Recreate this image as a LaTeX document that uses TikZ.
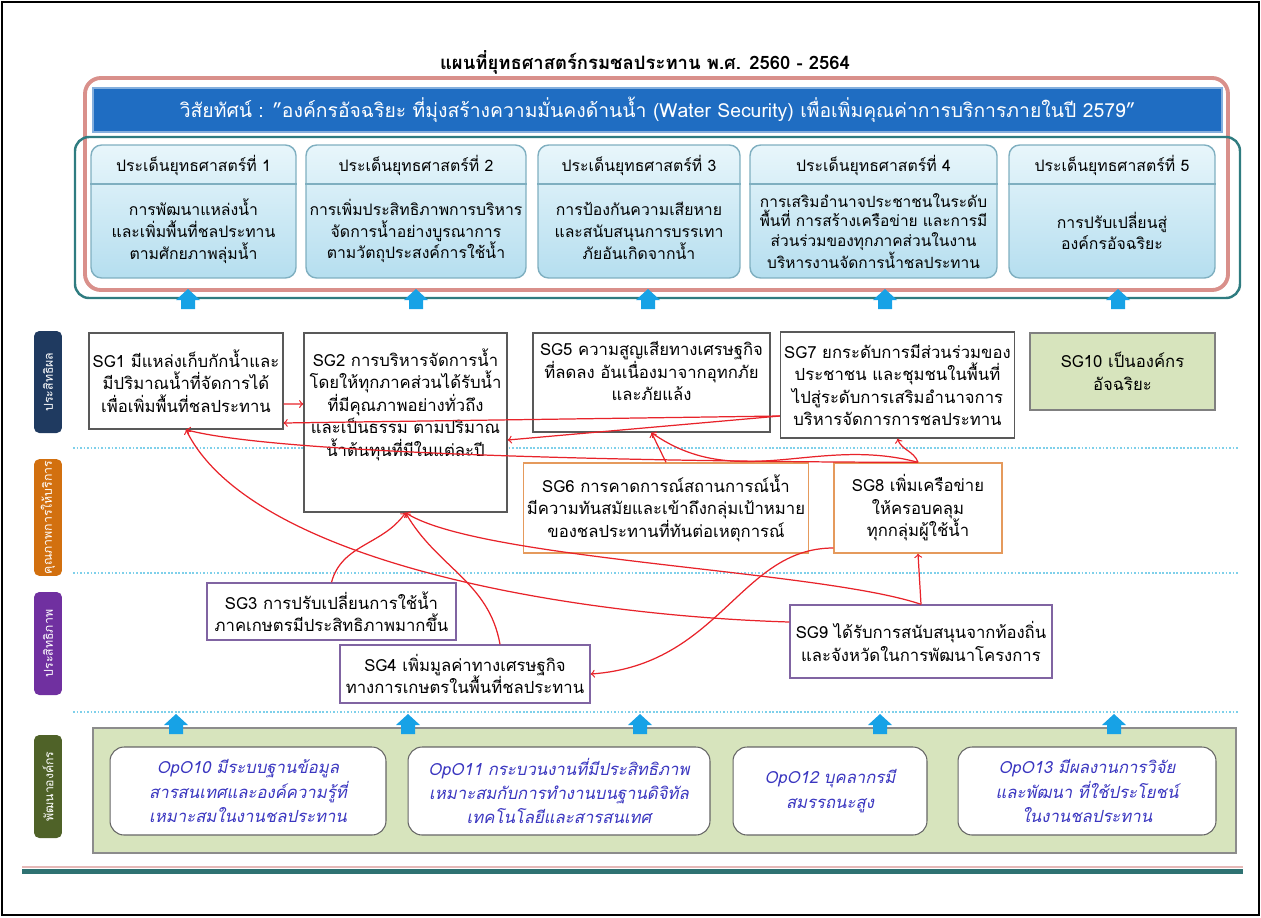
\documentclass[tikz,border=0pt]{standalone}
\usepackage{fontspec}
\setmainfont{Loma}[Script=Thai]

\definecolor{visionBlue}{HTML}{1F6DC2}
\definecolor{framePink}{HTML}{D9908B}
\definecolor{frameTeal}{HTML}{2F7C80}
\definecolor{issueTop}{HTML}{E8F6FB}
\definecolor{issueBottom}{HTML}{B5DEEF}
\definecolor{issueLine}{HTML}{7FAFC0}
\definecolor{arrowBlue}{HTML}{17A2E6}
\definecolor{navyLabel}{HTML}{1F3A60}
\definecolor{orangeLabel}{HTML}{D2700F}
\definecolor{purpleLabel}{HTML}{7030A0}
\definecolor{oliveLabel}{HTML}{4F6228}
\definecolor{paleOlive}{HTML}{D7E4BD}
\definecolor{serviceLine}{HTML}{E59A5C}
\definecolor{efficiencyLine}{HTML}{8064A2}
\definecolor{linkRed}{HTML}{E8232A}
\definecolor{dotBlue}{HTML}{7FD0EA}
\definecolor{opoText}{HTML}{3A36C0}
\definecolor{barPink}{HTML}{E6B9B8}
\definecolor{barTeal}{HTML}{2E7272}

\tikzset{vision/.style = {rectangle, fill=visionBlue, draw=visionBlue!55, line width=0.8pt,
    text=white, minimum width=22.58cm, minimum height=0.88cm, font=\fontsize{11}{13}\selectfont},
  issue/.style = {rectangle, rounded corners=6pt, draw=issueLine, line width=0.8pt,
    top color=issueTop, bottom color=issueBottom, minimum height=2.66cm},
  issueHead/.style = {font=\fontsize{9}{11}\selectfont},
  issueBody/.style = {align=center, font=\fontsize{9}{12.4}\selectfont},
  upArrow/.pic = {\fill[arrowBlue] (-7,10) -- (-7,1) -- (-12,1) -- (0,-10) -- (12,1) -- (7,1) -- (7,10) -- cycle;},
  sideLabel/.style = {rectangle, rounded corners=3pt, rotate=90, text=white, minimum height=0.56cm,
    font=\fontsize{7}{8}\selectfont, inner sep=1pt},
  effect/.style = {rectangle, draw=black!65, line width=0.8pt, fill=white, align=center,
    font=\fontsize{9.5}{12.8}\selectfont, inner sep=2pt},
  service/.style = {effect, draw=serviceLine},
  efficiency/.style = {effect, draw=efficiencyLine},
  smart/.style = {effect, fill=paleOlive, draw=black!50},
  opo/.style = {rectangle, rounded corners=8pt, draw=black!60, line width=0.6pt, fill=white,
    align=center, text=opoText, font=\fontsize{9.5}{13.9}\selectfont\itshape},
  bandLine/.style = {dotBlue, densely dotted, line width=1pt},
  redLink/.style = {->, draw=linkRed, line width=0.7pt}}

\begin{document}
\begin{tikzpicture}[x=0.02cm, y=-0.02cm]
  \useasboundingbox (0,0) rectangle (1261,917);
  \draw[line width=1pt] (2,2) rectangle (1259,915);

  \node (title) at (645,62) {\fontsize{10.5}{12}\selectfont\bfseries แผนที่ยุทธศาสตร์กรมชลประทาน พ.ศ. 2560 - 2564};

  % vision and strategic issues
  \draw[framePink, line width=2.2pt, rounded corners=9pt] (85,78) rectangle (1228,290);
  \draw[frameTeal, line width=1.4pt, rounded corners=8pt] (75,137) rectangle (1240,298);
  \node[vision] (vision) at (657.5,110) {วิสัยทัศน์ : "องค์กรอัจฉริยะ ที่มุ่งสร้างความมั่นคงด้านน้ำ (Water Security) เพื่อเพิ่มคุณค่าการบริการภายในปี 2579"};

  \node[issue, minimum width=4.1cm] (issue1) at (193.5,211.5) {};
  \node[issueHead] (head1) at (issue1.center |- 0,165) {ประเด็นยุทธศาสตร์ที่ 1};
  \draw[issueLine, line width=0.8pt] (issue1.west |- 0,184) -- (issue1.east |- 0,184);
  \node[issueBody] (body1) at (issue1.center |- 0,231) {การพัฒนาแหล่งน้ำ\\และเพิ่มพื้นที่ชลประทาน\\ตามศักยภาพลุ่มน้ำ};

  \node[issue, minimum width=4.4cm] (issue2) at (416,211.5) {};
  \node[issueHead] (head2) at (issue2.center |- 0,165) {ประเด็นยุทธศาสตร์ที่ 2};
  \draw[issueLine, line width=0.8pt] (issue2.west |- 0,184) -- (issue2.east |- 0,184);
  \node[issueBody] (body2) at (issue2.center |- 0,231) {การเพิ่มประสิทธิภาพการบริหาร\\จัดการน้ำอย่างบูรณาการ\\ตามวัตถุประสงค์การใช้น้ำ};

  \node[issue, minimum width=4.04cm] (issue3) at (639,211.5) {};
  \node[issueHead] (head3) at (issue3.center |- 0,165) {ประเด็นยุทธศาสตร์ที่ 3};
  \draw[issueLine, line width=0.8pt] (issue3.west |- 0,184) -- (issue3.east |- 0,184);
  \node[issueBody] (body3) at (issue3.center |- 0,231) {การป้องกันความเสียหาย\\และสนับสนุนการบรรเทา\\ภัยอันเกิดจากน้ำ};

  \node[issue, minimum width=4.94cm] (issue4) at (873.5,211.5) {};
  \node[issueHead] (head4) at (issue4.center |- 0,165) {ประเด็นยุทธศาสตร์ที่ 4};
  \draw[issueLine, line width=0.8pt] (issue4.west |- 0,184) -- (issue4.east |- 0,184);
  \node[issueBody, font=\fontsize{8.8}{11.2}\selectfont] (body4) at (issue4.center |- 0,231) {การเสริมอำนาจประชาชนในระดับ\\พื้นที่ การสร้างเครือข่าย และการมี\\ส่วนร่วมของทุกภาคส่วนในงาน\\บริหารงานจัดการน้ำชลประทาน};

  \node[issue, minimum width=4.12cm] (issue5) at (1112,211.5) {};
  \node[issueHead] (head5) at (issue5.center |- 0,165) {ประเด็นยุทธศาสตร์ที่ 5};
  \draw[issueLine, line width=0.8pt] (issue5.west |- 0,184) -- (issue5.east |- 0,184);
  \node[issueBody] (body5) at (issue5.center |- 0,231) {การปรับเปลี่ยนสู่\\องค์กรอัจฉริยะ};

  \pic (upA1) at (188,299) {upArrow};
  \pic (upA2) at (416,299) {upArrow};
  \pic (upA3) at (648,299) {upArrow};
  \pic (upA4) at (885,299) {upArrow};
  \pic (upA5) at (1118,299) {upArrow};

  % perspectives
  \node[sideLabel, fill=navyLabel, minimum width=2.04cm] (sideEff) at (48,382) {ประสิทธิผล};
  \node[sideLabel, fill=orangeLabel, minimum width=2.1cm] (sideSvc) at (48,517.5) {คุณภาพการให้บริการ};
  \node[sideLabel, fill=purpleLabel, minimum width=2.06cm] (sideEffi) at (48,643.5) {ประสิทธิภาพ};
  \node[sideLabel, fill=oliveLabel, minimum width=2.06cm] (sideDev) at (48,786.5) {พัฒนาองค์กร};

  \draw[bandLine] (73,448) -- (1238,448);
  \draw[bandLine] (73,573) -- (1238,573);
  \draw[bandLine] (73,712) -- (1238,712);

  % strategic goals
  \node[effect, minimum width=3.76cm, minimum height=1.92cm] (SG1) at (186,381) {SG1 มีแหล่งเก็บกักน้ำและ\\มีปริมาณน้ำที่จัดการได้\\เพื่อเพิ่มพื้นที่ชลประทาน};
  \node[effect, minimum width=4.06cm, minimum height=3.58cm] (SG2) at (405.5,422.5) {SG2 การบริหารจัดการน้ำ\\โดยให้ทุกภาคส่วนได้รับน้ำ\\ที่มีคุณภาพอย่างทั่วถึง\\และเป็นธรรม ตามปริมาณ\\น้ำต้นทุนที่มีในแต่ละปี\\[0.35cm]~};
  \node[effect, minimum width=4.74cm, minimum height=1.98cm] (SG5) at (651.5,382.5) {SG5 ความสูญเสียทางเศรษฐกิจ\\ที่ลดลง อันเนื่องมาจากอุทกภัย\\และภัยแล้ง\\~};
  \node[effect, minimum width=4.3cm, minimum height=2.12cm] (SG7) at (897.5,385) {SG7 ยกระดับการมีส่วนร่วมของ\\ประชาชน และชุมชนในพื้นที่\\ไปสู่ระดับการเสริมอำนาจการ\\บริหารจัดการการชลประทาน};
  \node[smart, minimum width=3.7cm, minimum height=1.54cm] (SG10) at (1122.5,371.5) {SG10 เป็นองค์กร\\อัจฉริยะ};

  \node[service, minimum width=5.64cm, minimum height=1.8cm] (SG6) at (666,508) {SG6 การคาดการณ์สถานการณ์น้ำ\\มีความทันสมัยและเข้าถึงกลุ่มเป้าหมาย\\ของชลประทานที่ทันต่อเหตุการณ์};
  \node[service, minimum width=3.36cm, minimum height=1.8cm] (SG8) at (918,508) {SG8 เพิ่มเครือข่าย\\ให้ครอบคลุม\\ทุกกลุ่มผู้ใช้น้ำ};

  \node[efficiency, minimum width=4.98cm, minimum height=1.14cm] (SG3) at (331.5,611.5) {SG3 การปรับเปลี่ยนการใช้น้ำ\\ภาคเกษตรมีประสิทธิภาพมากขึ้น};
  \node[efficiency, minimum width=5cm, minimum height=1.16cm] (SG4) at (465,674) {SG4 เพิ่มมูลค่าทางเศรษฐกิจ\\ทางการเกษตรในพื้นที่ชลประทาน};
  \node[efficiency, minimum width=5.24cm, minimum height=1.46cm] (SG9) at (921,641.5) {SG9 ได้รับการสนับสนุนจากท้องถิ่น\\และจังหวัดในการพัฒนาโครงการ};

  \draw[redLink] ([yshift=-0.46cm]SG1.east) -- ([yshift=0.37cm]SG2.west);
  \draw[redLink] ([yshift=-0.62cm]SG7.west) -- ([yshift=-0.84cm]SG1.east);
  \draw[redLink] ([yshift=-0.62cm]SG7.west) -- ([yshift=-0.35cm]SG2.east);
  \draw[redLink] (SG8.north) to[out=110,in=-70] (SG7.south);
  \draw[redLink] (SG8.north) to[out=165,in=-35] (SG5.south);
  \draw[redLink] (SG6.north) -- (SG5.south);
  \draw[redLink] (SG8.north) to[out=180,in=-15,looseness=0.4] (SG1.south);
  \draw[redLink] ([yshift=0.39cm]SG9.west) .. controls (560,615) and (250,560) .. (SG1.south);
  \draw[redLink] (SG9.north) .. controls (820,570) and (480,560) .. (SG2.south);
  \draw[redLink] (SG3.north) to[out=75,in=-125] (SG2.south);
  \draw[redLink] ([xshift=0.7cm]SG4.north) to[out=100,in=-60] (SG2.south);
  \draw[redLink] ([yshift=-0.8cm]SG8.west) .. controls (740,548) and (720,665) .. (SG4.east);
  \draw[redLink] (SG9.north) -- (SG8.south);

  % organisation development
  \draw[fill=paleOlive, draw=black!45, line width=0.8pt] (93,728) rectangle (1236,853);
  \node[opo, minimum width=5.52cm, minimum height=1.76cm] (OpO10) at (248,791) {OpO10 มีระบบฐานข้อมูล\\สารสนเทศและองค์ความรู้ที่\\เหมาะสมในงานชลประทาน};
  \node[opo, minimum width=6.04cm, minimum height=1.76cm] (OpO11) at (559,791) {OpO11 กระบวนงานที่มีประสิทธิภาพ\\เหมาะสมกับการทำงานบนฐานดิจิทัล\\เทคโนโลยีและสารสนเทศ};
  \node[opo, minimum width=3.88cm, minimum height=1.76cm] (OpO12) at (830,791) {OpO12 บุคลากรมี\\สมรรถนะสูง};
  \node[opo, minimum width=5.16cm, minimum height=1.76cm] (OpO13) at (1087,791) {OpO13 มีผลงานการวิจัย\\และพัฒนา ที่ใช้ประโยชน์\\ในงานชลประทาน};

  \pic (upB1) at (176,724) {upArrow};
  \pic (upB2) at (408,724) {upArrow};
  \pic (upB3) at (640,724) {upArrow};
  \pic (upB4) at (880,724) {upArrow};
  \pic (upB5) at (1114,724) {upArrow};

  \draw[barPink, line width=1.2pt] (22,867) -- (1243,867);
  \draw[barTeal, line width=2.8pt] (22,871.5) -- (1243,871.5);
\end{tikzpicture}
\end{document}
